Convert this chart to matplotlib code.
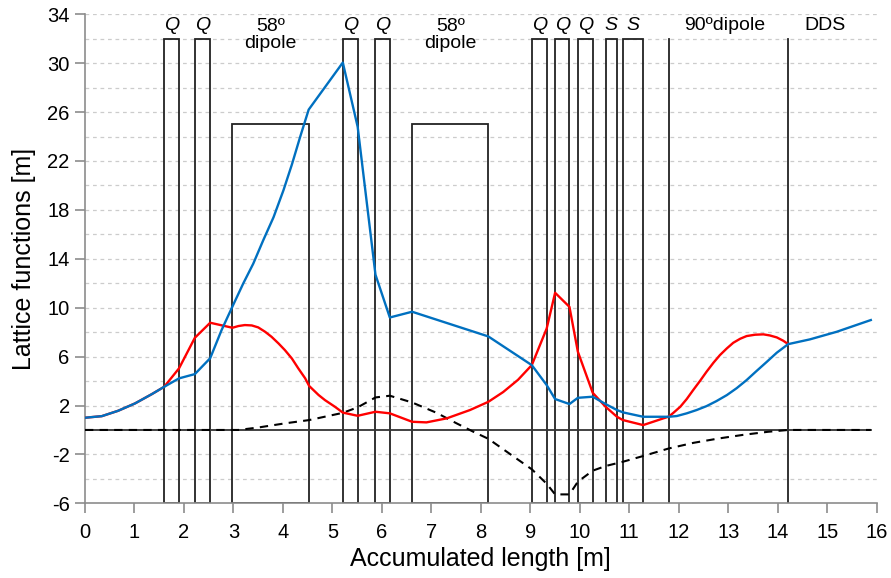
import matplotlib
matplotlib.use("Agg")
import matplotlib.pyplot as plt
from matplotlib.patches import Rectangle

plt.rcParams['font.family'] = ['Liberation Sans', 'DejaVu Sans']
plt.rcParams['axes.unicode_minus'] = False

# Horizontal beta function (blue)
s_beta_x = [0.0, 0.34, 0.67, 1.01, 1.35, 1.60, 1.90, 2.22, 2.53, 2.76, 2.98, 3.20, 3.40,
            3.60, 3.81, 4.01, 4.18, 4.35, 4.52, 5.21, 5.51, 5.87, 6.16, 6.61, 8.15,
            9.03, 9.33, 9.50, 9.79, 9.96, 10.26, 10.52, 10.75, 10.87, 11.28, 11.80,
            11.96, 12.16, 12.36, 12.56, 12.76, 12.97, 13.17, 13.37, 13.57, 13.78, 13.98,
            14.21, 14.65, 15.19, 15.88]
beta_x = [1.00, 1.13, 1.57, 2.17, 2.93, 3.53, 4.22, 4.57, 5.87, 8.17, 10.1, 12.0, 13.6,
          15.5, 17.4, 19.6, 21.7, 24.0, 26.2, 30.05, 24.8, 12.7, 9.2, 9.67, 7.65,
          5.30, 3.67, 2.53, 2.12, 2.63, 2.72, 2.12, 1.63, 1.44, 1.08, 1.08,
          1.14, 1.36, 1.63, 1.95, 2.36, 2.85, 3.42, 4.08, 4.82, 5.58, 6.32,
          7.02, 7.41, 8.03, 8.99]

# Vertical beta function (red)
s_beta_y = [0.0, 0.34, 0.67, 1.01, 1.35, 1.60, 1.90, 2.22, 2.53, 2.98, 3.10, 3.23, 3.37,
            3.50, 3.64, 3.77, 3.91, 4.04, 4.18, 4.31, 4.45, 4.53, 4.72, 4.85, 5.05,
            5.21, 5.51, 5.87, 6.16, 6.61, 6.90, 7.31, 7.78,
            8.15, 8.45, 8.75, 9.03, 9.33, 9.50, 9.79, 9.96, 10.26, 10.52, 10.75, 10.87,
            11.28, 11.80, 11.89, 12.03, 12.16, 12.29, 12.43, 12.56, 12.70, 12.83, 12.97,
            13.10, 13.24, 13.37, 13.54, 13.71, 13.84, 13.98, 14.11, 14.21]
beta_y = [1.00, 1.13, 1.57, 2.17, 2.93, 3.53, 5.04, 7.54, 8.77, 8.36, 8.50, 8.58, 8.55,
          8.39, 8.03, 7.62, 7.08, 6.53, 5.85, 5.04, 4.22, 3.60, 2.86, 2.44, 1.90,
          1.42, 1.16, 1.49, 1.36, 0.67, 0.62, 0.95, 1.63,
          2.30, 3.10, 4.10, 5.31, 8.30, 11.22, 10.07, 6.40, 3.04, 1.90, 1.08, 0.81,
          0.40, 1.10, 1.40, 1.90, 2.53, 3.26, 4.02, 4.76, 5.50, 6.12, 6.67,
          7.13, 7.46, 7.68, 7.79, 7.82, 7.73, 7.57, 7.30, 7.02]

# Dispersion (dashed)
s_disp = [0.0, 3.10, 3.50, 4.04, 4.53, 5.21, 5.51, 5.87, 6.16, 6.61, 7.10, 7.51, 7.85,
          8.15, 9.03, 9.33, 9.50, 9.79, 9.96, 10.26, 10.52, 10.87, 11.28, 11.80,
          12.30, 12.80, 13.30, 13.80, 14.21, 15.88]
disp = [0.0, 0.0, 0.20, 0.54, 0.81, 1.40, 1.85, 2.66, 2.80, 2.25, 1.41, 0.54, -0.15,
        -0.72, -3.22, -4.40, -5.27, -5.27, -4.23, -3.33, -2.95, -2.60, -2.13, -1.51,
        -1.05, -0.70, -0.40, -0.15, 0.0, 0.0]

# Magnet layout: start, end, box height, label
elem_start = [1.60, 2.22, 2.98, 5.21, 5.87, 6.61, 9.03, 9.50, 9.96, 10.52, 10.87]
elem_end = [1.90, 2.53, 4.52, 5.51, 6.16, 8.15, 9.33, 9.79, 10.26, 10.75, 11.28]
elem_height = [32, 32, 25, 32, 32, 25, 32, 32, 32, 32, 32]
elem_label = ['Q', 'Q', '58º\ndipole', 'Q', 'Q', '58º\ndipole', 'Q', 'Q', 'Q', 'S', 'S']

# Section boundaries drawn as plain vertical lines
section_lines = [11.80, 14.21]
section_labels = ['90ºdipole', 'DDS']
section_label_x = [12.93, 14.95]

fig = plt.figure(figsize=(8.91, 5.78), dpi=100)
ax = fig.add_axes([0.0954, 0.1292, 0.8886, 0.8461])

ax.set_xlim(0, 16)
ax.set_ylim(-6, 34)

# Dashed grid every 2 m
for g in range(-4, 36, 2):
    if g == 0:
        continue
    ax.axhline(g, color='#cccccc', lw=0.9, ls=(0, (3, 3)), zorder=0)

ymin = -6
for a, b, h, lab in zip(elem_start, elem_end, elem_height, elem_label):
    ax.add_patch(Rectangle((a, ymin), b - a, h - ymin, fill=False,
                           edgecolor='#222222', lw=1.3, zorder=2))
    xc = (a + b) / 2
    if lab in ('Q', 'S'):
        ax.text(xc, 33.1, lab, ha='center', va='center', fontsize=14,
                style='italic', zorder=5)
    else:
        ax.text(xc, 32.3, lab, ha='center', va='center', fontsize=14,
                linespacing=0.95, zorder=5)

for xl in section_lines:
    ax.plot([xl, xl], [ymin, 32], color='#222222', lw=1.3, zorder=2)
for xt, lab in zip(section_label_x, section_labels):
    ax.text(xt, 33.1, lab, ha='center', va='center', fontsize=14, zorder=5)

# Reference line at zero
ax.plot([0, 15.88], [0, 0], color='#333333', lw=1.3, zorder=2)

ax.plot(s_disp, disp, color='black', lw=1.5, ls=(0, (4, 3)), zorder=3)
ax.plot(s_beta_y, beta_y, color='#ff0000', lw=1.7, zorder=4)
ax.plot(s_beta_x, beta_x, color='#0070c0', lw=1.7, zorder=4)

ax.set_xticks(range(0, 17))
ax.set_yticks(range(-6, 35, 4))
for sp in ('top', 'right'):
    ax.spines[sp].set_visible(False)
for sp in ('left', 'bottom'):
    ax.spines[sp].set_color('#8c8c8c')
    ax.spines[sp].set_linewidth(1.2)
ax.tick_params(axis='both', colors='#8c8c8c', length=7, width=1.2,
               labelcolor='black', labelsize=14.5)
ax.tick_params(axis='x', pad=7)
ax.tick_params(axis='y', pad=4)

ax.set_xlabel('Accumulated length [m]', fontsize=18, labelpad=4)
ax.set_ylabel('Lattice functions [m]', fontsize=18, labelpad=8)

fig.savefig('out.png', dpi=100)
